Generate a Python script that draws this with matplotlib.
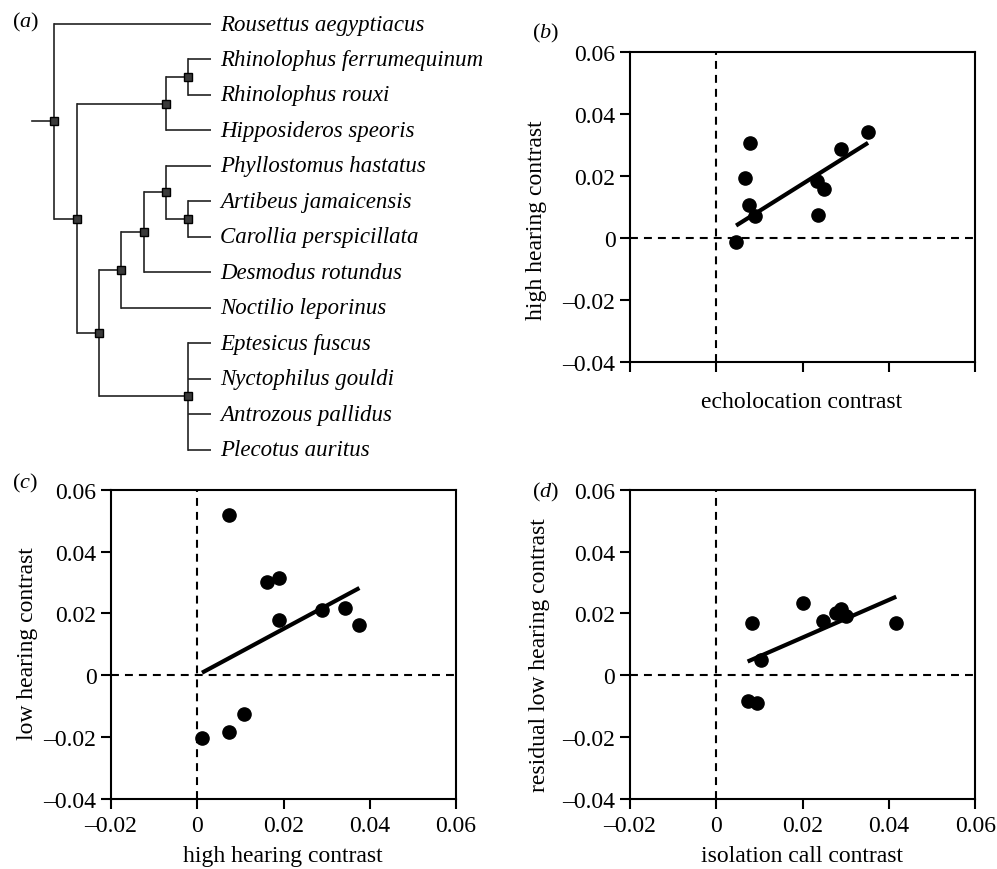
import numpy as np
import matplotlib
matplotlib.use("Agg")
import matplotlib.pyplot as plt

plt.rcParams['font.family'] = ['Liberation Serif', 'DejaVu Serif']
plt.rcParams['mathtext.fontset'] = 'custom'
plt.rcParams['mathtext.rm'] = 'Liberation Serif'
plt.rcParams['mathtext.it'] = 'Liberation Serif:italic'

# ---------------- data ----------------
# phylogeny (nested clades, leaves are species names)
tree = (
    "Rousettus aegyptiacus",
    (
        (("Rhinolophus ferrumequinum", "Rhinolophus rouxi"), "Hipposideros speoris"),
        (
            ((("Phyllostomus hastatus", ("Artibeus jamaicensis", "Carollia perspicillata")),
              "Desmodus rotundus"),
             "Noctilio leporinus"),
            ("Eptesicus fuscus", "Nyctophilus gouldi", "Antrozous pallidus", "Plecotus auritus"),
        ),
    ),
)

# (b) echolocation contrast vs high hearing contrast
b_x = [0.0046, 0.0067, 0.0079, 0.0075, 0.0090, 0.0233, 0.0249, 0.0235, 0.0290, 0.0352]
b_y = [-0.0012, 0.0193, 0.0306, 0.0107, 0.0072, 0.0185, 0.0158, 0.0074, 0.0287, 0.0341]

# (c) high hearing contrast vs low hearing contrast
c_x = [0.0074, 0.0161, 0.0190, 0.0190, 0.0289, 0.0342, 0.0376, 0.0109, 0.0074, 0.0011]
c_y = [0.0518, 0.0303, 0.0314, 0.0179, 0.0211, 0.0218, 0.0161, -0.0126, -0.0182, -0.0204]

# (d) isolation call contrast vs residual low hearing contrast
d_x = [0.0082, 0.0105, 0.0201, 0.0247, 0.0278, 0.0288, 0.0301, 0.0417, 0.0073, 0.0094]
d_y = [0.0168, 0.0051, 0.0233, 0.0176, 0.0200, 0.0214, 0.0192, 0.0168, -0.0084, -0.0089]

tick_values = [-0.02, 0.0, 0.02, 0.04, 0.06]
x_tick_labels = ["\u20130.02", "0", "0.02", "0.04", "0.06"]
y_tick_values = [-0.04, -0.02, 0.0, 0.02, 0.04, 0.06]
y_tick_labels = ["\u20130.04", "\u20130.02", "0", "0.02", "0.04", "0.06"]

# ---------------- figure ----------------
W, Hpx = 997, 870
fig = plt.figure(figsize=(W / 100, Hpx / 100), dpi=100)

# ----- (a) tree -----
axa = fig.add_axes([0, 1 - 470 / Hpx, 480 / W, 470 / Hpx])
axa.set_xlim(-2.43, 19.05)
axa.set_ylim(12.546, -0.705)
axa.axis('off')

def height(n):
    return 0 if isinstance(n, str) else 1 + max(height(c) for c in n)

TOP = height(tree)
leaves = []
nodes = []
tree_col = '#222222'

def draw(n):
    if isinstance(n, str):
        i = len(leaves)
        leaves.append(n)
        return TOP, i
    pts = [draw(c) for c in n]
    x = TOP - height(n)
    ys = [p[1] for p in pts]
    ymid = (ys[0] + ys[-1]) / 2
    axa.plot([x, x], [ys[0], ys[-1]], color=tree_col, lw=1.2, solid_capstyle='projecting')
    for cx, cy in pts:
        axa.plot([x, cx], [cy, cy], color=tree_col, lw=1.2, solid_capstyle='butt')
    nodes.append((x, ymid))
    return x, ymid

rx, ry = draw(tree)
axa.plot([rx - 1, rx], [ry, ry], color=tree_col, lw=1.2)
for nx, ny in nodes:
    axa.plot(nx, ny, marker='s', ms=6.0, mfc='#3a3a3a', mec='black', mew=1.0, zorder=3)
for i, name in enumerate(leaves):
    axa.text(TOP + 0.42, i, name, style='italic', fontsize=16.5, va='center', ha='left')

# ----- scatter panels -----
def panel(rect, xs, ys, xlabel, ylabel, xlab_coords, ylab_coords, show_xtl=True):
    ax = fig.add_axes(rect)
    xs = np.asarray(xs)
    ys = np.asarray(ys)
    ax.set_xlim(-0.02, 0.06)
    ax.set_ylim(-0.04, 0.06)
    dash = (0, (3.8, 2.9))
    ax.axhline(0, color='black', lw=1.5, linestyle=dash, zorder=1)
    ax.axvline(0, color='black', lw=1.5, linestyle=dash, zorder=1)
    # regression through the origin (independent contrasts)
    slope = np.sum(xs * ys) / np.sum(xs * xs)
    lx = np.array([xs.min(), xs.max()])
    ax.plot(lx, slope * lx, color='black', lw=3.0, solid_capstyle='butt', zorder=2)
    ax.plot(xs, ys, 'o', color='black', ms=9.5, zorder=3)
    ax.set_xticks(tick_values)
    ax.set_yticks(y_tick_values)
    ax.set_yticklabels(y_tick_labels)
    if show_xtl:
        ax.set_xticklabels(x_tick_labels)
    else:
        ax.set_xticklabels([])
    for s in ax.spines.values():
        s.set_linewidth(1.5)
    ax.tick_params(direction='out', length=7.5, width=1.5, labelsize=17, pad=3)
    ax.tick_params(axis='x', pad=4)
    ax.set_xlabel(xlabel, fontsize=17)
    ax.set_ylabel(ylabel, fontsize=17)
    ax.xaxis.label.set_va('center')
    ax.yaxis.label.set_va('center')
    ax.xaxis.set_label_coords(*xlab_coords)
    ax.yaxis.set_label_coords(*ylab_coords)
    return ax

def rect(l, r, t, b):
    return [l / W, 1 - b / Hpx, (r - l) / W, (b - t) / Hpx]

panel(rect(630, 975, 53, 363), b_x, b_y, "echolocation contrast", "high hearing contrast",
      (0.498, -0.126), (-0.27, 0.461), show_xtl=False)
panel(rect(111, 456, 490.7, 800), c_x, c_y, "high hearing contrast", "low hearing contrast",
      (0.499, -0.184), (-0.243, 0.506))
panel(rect(629.7, 975.3, 490.7, 800), d_x, d_y, "isolation call contrast", "residual low hearing contrast",
      (0.499, -0.184), (-0.26, 0.468))

# panel letters
def letter(px, py, s):
    fig.text(px / W, 1 - py / Hpx, r'($\it{%s}$)' % s, fontsize=16, ha='left', va='center')

letter(12, 22, 'a')
letter(532, 33, 'b')
letter(12, 483, 'c')
letter(532, 492, 'd')

fig.savefig('out.png', dpi=100)
